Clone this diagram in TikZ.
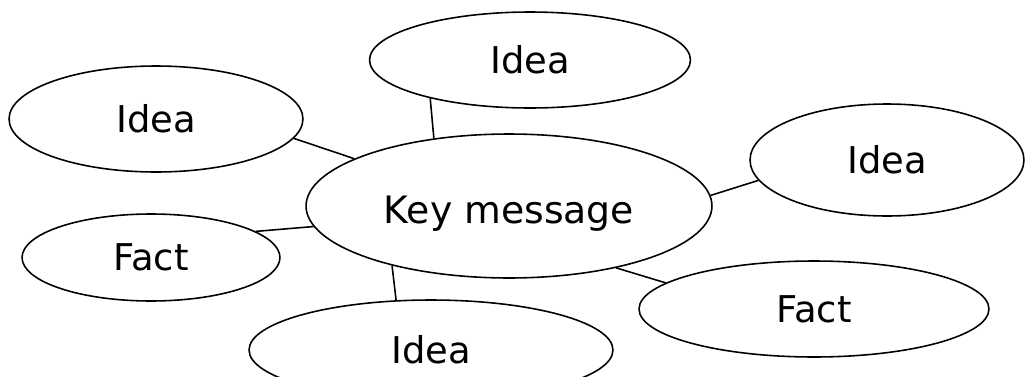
\documentclass[tikz,border=0pt]{standalone}
\usepackage{fontspec}
\setmainfont{DejaVu Sans}
\usetikzlibrary{shapes.geometric}

\begin{document}
\begin{tikzpicture}[x=0.02cm, y=-0.02cm,
    bubble/.style={ellipse, draw, line width=0.9pt, inner sep=0pt, font=\fontsize{21}{25}\selectfont},
    link/.style={line width=0.9pt}]
    \useasboundingbox (0,0) rectangle (1025,376);

    \node[bubble, minimum width=8.12cm, minimum height=2.88cm, font=\fontsize{21.5}{26}\selectfont] (key) at (509,206) {\raisebox{-0.16cm}[\height][\depth]{Key message}};

    \node[bubble, minimum width=5.88cm, minimum height=2.12cm] (ideaL) at (156,119) {Idea};
    \node[bubble, minimum width=6.42cm, minimum height=1.92cm] (ideaT) at (530,60) {Idea};
    \node[bubble, minimum width=5.48cm, minimum height=2.24cm] (ideaR) at (887,160) {Idea};
    \node[bubble, minimum width=7.28cm, minimum height=2.0cm]  (ideaB) at (431,350) {Idea};
    \node[bubble, minimum width=5.16cm, minimum height=1.74cm] (factL) at (151,257.5) {Fact};
    \node[bubble, minimum width=7.0cm, minimum height=1.92cm]  (factR) at (814,309) {Fact};

    % spokes from the centre
    \draw[link] (ideaL.-8.5) -- (key.163.7);
    \draw[link] (ideaT.201.9) -- (key.138.4);
    \draw[link] (ideaR.189.8) -- (key.3.7);
    \draw[link] (factL.14.3) -- (key.186.1);
    \draw[link] (ideaB.125.8) -- (key.207.3);
    \draw[link] (factR.170.7) -- (key.-30.9);
\end{tikzpicture}
\end{document}
